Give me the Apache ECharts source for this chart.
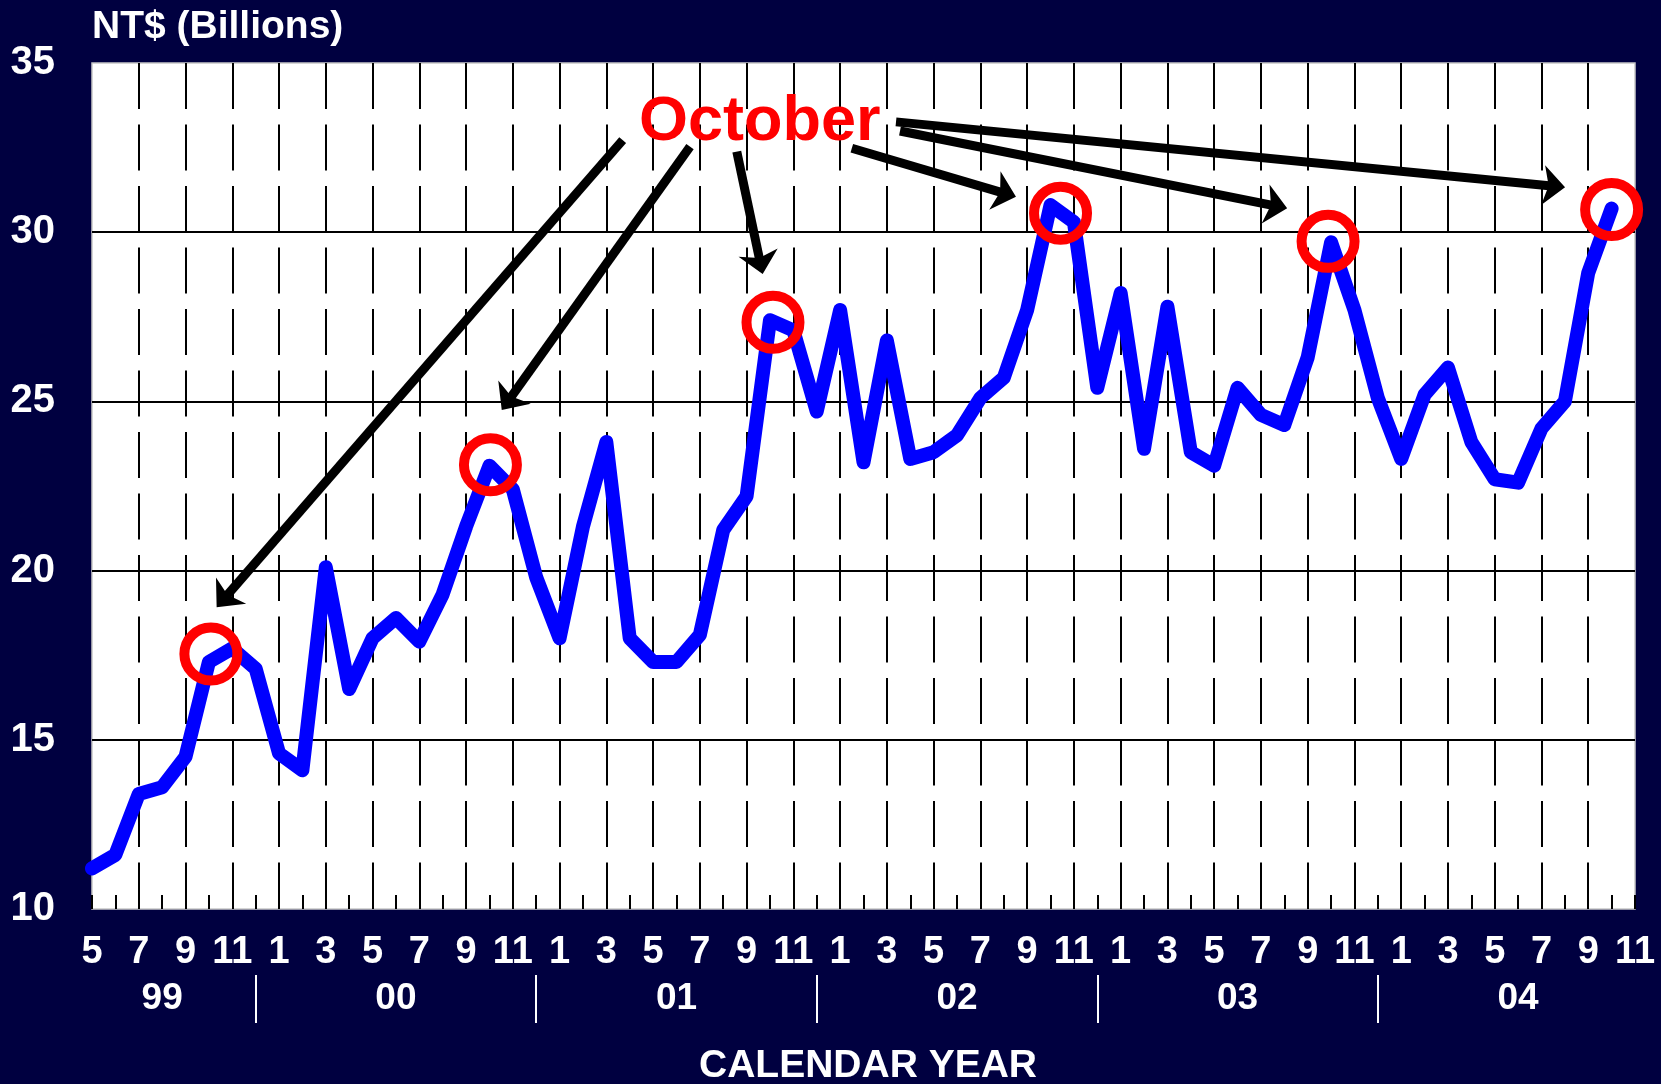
<!DOCTYPE html>
<html>
<head>
<meta charset="utf-8">
<title>NT$ (Billions) by month</title>
<script src="https://cdn.jsdelivr.net/npm/echarts@6/dist/echarts.min.js"></script>
<style>
  html, body { margin: 0; padding: 0; background: #000040; }
  #chart { width: 1661px; height: 1084px; }
</style>
</head>
<body>
<div id="chart"></div>
<script>
// month number of every category, May 1999 .. Nov 2004
const months = [
  '5', '6', '7', '8', '9', '10', '11', '12',
  '1', '2', '3', '4', '5', '6', '7', '8', '9', '10', '11', '12',
  '1', '2', '3', '4', '5', '6', '7', '8', '9', '10', '11', '12',
  '1', '2', '3', '4', '5', '6', '7', '8', '9', '10', '11', '12',
  '1', '2', '3', '4', '5', '6', '7', '8', '9', '10', '11', '12',
  '1', '2', '3', '4', '5', '6', '7', '8', '9', '10', '11'
]
const years = ['99', '00', '01', '02', '03', '04']
const yearLabelAt = [3, 13, 25, 37, 49, 61]   // category index under which the year sits
const yearBreaks = [7, 19, 31, 43, 55]        // december of each year
const yTicks = [10, 15, 20, 25, 30, 35]

// NT$ billions, May 1999 .. Oct 2004
const revenue = [
  11.2, 11.6, 13.4, 13.6, 14.5, 17.3, 17.7, 17.1,
  14.6, 14.1, 20.1, 16.5, 18.0, 18.6, 17.9, 19.3, 21.3, 23.1, 22.4, 19.8,
  18.0, 21.3, 23.8, 18.0, 17.3, 17.3, 18.1, 21.2, 22.2, 27.4, 27.1, 24.7,
  27.7, 23.2, 26.8, 23.3, 23.5, 24.0, 25.1, 25.7, 27.7, 30.8, 30.3, 25.4,
  28.2, 23.6, 27.8, 23.5, 23.1, 25.4, 24.6, 24.3, 26.3, 29.7, 27.7, 25.1,
  23.3, 25.2, 26.0, 23.8, 22.7, 22.6, 24.2, 25.0, 28.8, 30.7
]
const octoberIdx = [5, 17, 29, 41, 53, 65]

const FONT = "'Liberation Sans', Arial, Helvetica, sans-serif"

// "October" arrows: [tail], [head] in (month index, NT$) space
const arrows = [
  [[22.70, 32.72], [5.64, 19.16]],
  [[25.58, 32.53], [17.80, 25.01]],
  [[27.58, 32.38], [28.59, 29.08]],
  [[32.50, 32.48], [39.07, 31.14]],
  [[34.56, 32.99], [50.66, 30.77]],
  [[34.39, 33.26], [62.54, 31.36]]
]
// notched arrow head, 40 wide x 22 long, tip up
const ARROW_HEAD = 'path://M20,0L40,22L20,16.5L0,22Z'
// small nudges of the red rings, as drawn in the original
const ringOffsets = [[2, -8], [1, -1], [3, 2], [10, 8], [-3, -1], [0, 1]]

const chart = echarts.init(document.getElementById('chart'))

chart.setOption({
  animation: false,
  backgroundColor: '#000040',
  title: [
    {
      text: 'NT$ (Billions)',
      left: 92,
      top: 8,
      padding: 0,
      textStyle: { color: '#fff', fontSize: 39, fontWeight: 'bold', fontFamily: FONT }
    },
    {
      text: 'October',
      left: 639,
      top: 91,
      padding: 0,
      textStyle: { color: '#ff0000', fontSize: 63, fontWeight: 'bold', fontFamily: FONT }
    },
    {
      text: 'CALENDAR YEAR',
      left: 699,
      top: 1047,
      padding: 0,
      textStyle: { color: '#fff', fontSize: 39, fontWeight: 'bold', fontFamily: FONT }
    }
  ],
  grid: {
    left: 92,
    right: 26,
    top: 63,
    bottom: 175,
    show: true,
    backgroundColor: '#ffffff',
    borderColor: '#c8c8c8',
    borderWidth: 1.5,
    outerBoundsMode: 'none'
  },
  xAxis: [
    {
      type: 'value',
      min: 0,
      max: months.length - 1,
      interval: 2,
      axisLine: { show: false },
      axisTick: { show: true, inside: true, length: 14, lineStyle: { color: '#000', width: 2 } },
      minorTick: { show: true, splitNumber: 2, length: 14, lineStyle: { color: '#000', width: 2 } },
      axisLabel: {
        color: '#fff',
        fontSize: 38,
        fontWeight: 'bold',
        fontFamily: FONT,
        margin: 25,
        showMinLabel: true,
        showMaxLabel: true,
        formatter: v => months[v]
      },
      splitLine: {
        show: true,
        showMinLine: false,
        showMaxLine: false,
        lineStyle: { color: '#000', width: 2, type: [46, 15.5] }
      }
    },
    {
      // year row under the month numbers
      type: 'value',
      min: 0,
      max: months.length - 1,
      position: 'bottom',
      offset: 66,
      axisLine: { show: false },
      axisTick: {
        show: true,
        customValues: yearBreaks,
        length: 48,
        lineStyle: { color: '#fff', width: 2 }
      },
      axisLabel: {
        customValues: yearLabelAt,
        color: '#fff',
        fontSize: 37,
        fontWeight: 'bold',
        fontFamily: FONT,
        margin: 5,
        formatter: v => years[yearLabelAt.indexOf(v)]
      },
      splitLine: { show: false }
    }
  ],
  yAxis: {
    type: 'value',
    min: yTicks[0],
    max: yTicks[yTicks.length - 1],
    interval: 5,
    axisLine: { show: false },
    axisTick: { show: false },
    axisLabel: {
      color: '#fff',
      fontSize: 40,
      fontWeight: 'bold',
      fontFamily: FONT,
      margin: 37,
      showMinLabel: true,
      showMaxLabel: true
    },
    splitLine: {
      show: true,
      showMinLine: false,
      showMaxLine: false,
      lineStyle: { color: '#000', width: 2 }
    }
  },
  series: [
    {
      type: 'line',
      xAxisIndex: 0,
      silent: true,
      symbol: 'none',
      data: revenue.map((v, i) => [i, v]),
      lineStyle: { color: '#0000ff', width: 14, join: 'round', cap: 'round' },
      itemStyle: { color: '#0000ff' },
      markPoint: {
        silent: true,
        symbol: 'circle',
        symbolSize: 53,
        itemStyle: { color: 'rgba(0,0,0,0)', borderColor: '#ff0000', borderWidth: 10 },
        label: { show: false },
        data: octoberIdx.map((i, k) => ({
          coord: [i, revenue[i]],
          symbolOffset: ringOffsets[k]
        }))
      },
      markLine: {
        silent: true,
        symbol: ['none', ARROW_HEAD],
        symbolSize: 40,
        symbolKeepAspect: true,
        label: { show: false },
        lineStyle: { color: '#000', width: 9, type: 'solid' },
        data: arrows.map(a => [{ coord: a[0] }, { coord: a[1] }])
      }
    }
  ]
})
</script>
</body>
</html>
